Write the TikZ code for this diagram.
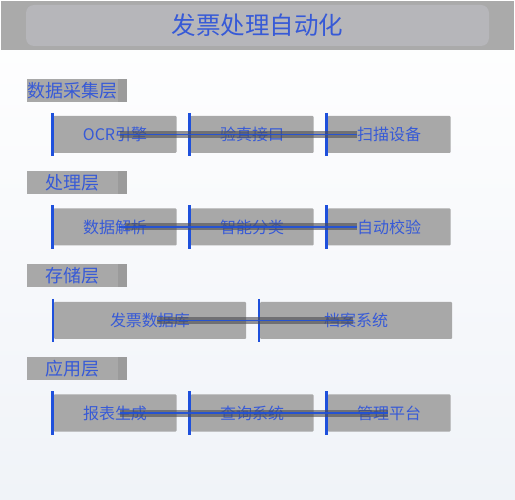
\documentclass[tikz,border=0pt]{standalone}
\usepackage{fontspec}
\setmainfont{Noto Sans CJK SC}
\definecolor{txtblue}{RGB}{55,90,215}
\definecolor{barblue}{RGB}{30,80,220}
\definecolor{boxgray}{RGB}{168,168,168}
\definecolor{stripgray}{RGB}{155,155,155}
\definecolor{outergray}{RGB}{170,170,170}
\definecolor{innergray}{RGB}{182,182,186}
\definecolor{bandgray}{RGB}{75,75,80}
\definecolor{bgbottom}{RGB}{240,243,248}
\tikzset{
  box/.style={rectangle, fill=boxgray, minimum height=37pt, inner sep=0pt,
    font=\fontsize{16}{16}\selectfont, text=txtblue, rounded corners=1pt},
  layerlabel/.style={rectangle, fill=boxgray, minimum width=91pt, minimum height=23pt,
    inner sep=0pt, font=\fontsize{18}{18}\selectfont, text=txtblue},
  strip/.style={fill=stripgray},
  bar/.style={draw=barblue, line width=2.6pt},
  band/.style={draw=bandgray, opacity=0.6, line width=7pt},
  thinblue/.style={draw=barblue, line width=1.2pt, opacity=0.9}
}
\newcommand{\leftbar}[1]{\draw[bar] ([xshift=-1pt,yshift=3pt]#1.north west) -- ([xshift=-1pt,yshift=-3pt]#1.south west);}
\newcommand{\labstrip}[1]{\fill[strip] (#1.north east) rectangle ([xshift=9pt]#1.south east);}
\begin{document}
\begin{tikzpicture}[x=1pt,y=-1pt]
\useasboundingbox (0,0) rectangle (515,500);
\shade[top color=white, bottom color=bgbottom] (0,0) rectangle (515,500);
% title
\node[rectangle, fill=outergray, minimum width=513pt, minimum height=49pt, inner sep=0pt] (titlebar) at (257.5,25.5) {};
\node[rectangle, fill=innergray, rounded corners=8pt, minimum width=463pt, minimum height=41pt, inner sep=0pt,
  font=\fontsize{24.5}{24.5}\selectfont, text=txtblue] (title) at (257.5,25.5) {发票处理自动化};
% layer labels
\node[layerlabel] (l1) at (72.5,90.5) {数据采集层};
\node[layerlabel] (l2) at (72.5,182.5) {处理层};
\node[layerlabel] (l3) at (72.5,275.5) {存储层};
\node[layerlabel] (l4) at (72.5,368.5) {应用层};
\labstrip{l1}\labstrip{l2}\labstrip{l3}\labstrip{l4}
% row 1
\node[box, minimum width=123pt] (b11) at (115,134.5) {OCR引擎};
\node[box, minimum width=123pt] (b12) at (252,134.5) {验真接口};
\node[box, minimum width=123pt] (b13) at (389,134.5) {扫描设备};
% row 2
\node[box, minimum width=123pt] (b21) at (115,227) {数据解析};
\node[box, minimum width=123pt] (b22) at (252,227) {智能分类};
\node[box, minimum width=123pt] (b23) at (389,227) {自动校验};
% row 3
\node[box, minimum width=192pt] (b31) at (150,320.5) {发票数据库};
\node[box, minimum width=192pt] (b32) at (356,320.5) {档案系统};
% row 4
\node[box, minimum width=123pt] (b41) at (115,413) {报表生成};
\node[box, minimum width=123pt] (b42) at (252,413) {查询系统};
\node[box, minimum width=123pt] (b43) at (389,413) {管理平台};
% left bars
\leftbar{b11}\leftbar{b12}\leftbar{b13}
\leftbar{b21}\leftbar{b22}\leftbar{b23}
\leftbar{b31}\leftbar{b32}
\leftbar{b41}\leftbar{b42}\leftbar{b43}
% connectors
\draw[band] ([xshift=5pt]b11.center) -- (b12.center);
\draw[band] (b12.center) -- ([xshift=-32pt]b13.center);
\draw[thinblue] ([xshift=5pt]b11.center) -- (b12.center) -- ([xshift=-32pt]b13.center);
\draw[band] ([xshift=10pt]b21.center) -- (b22.center);
\draw[band] (b22.center) -- ([xshift=-32pt]b23.center);
\draw[thinblue] ([xshift=4pt]b21.center) -- (b22.center) -- ([xshift=-32pt]b23.center);
\draw[band] ([xshift=7pt]b31.center) -- ([xshift=-3pt]b32.center);
\draw[thinblue] ([xshift=7pt]b31.center) -- ([xshift=-3pt]b32.center);
\draw[band] ([xshift=5pt]b41.center) -- (b42.center);
\draw[band] (b42.center) -- ([xshift=-1pt]b43.center);
\draw[thinblue] ([xshift=5pt]b41.center) -- (b42.center) -- ([xshift=-1pt]b43.center);
\end{tikzpicture}
\end{document}
